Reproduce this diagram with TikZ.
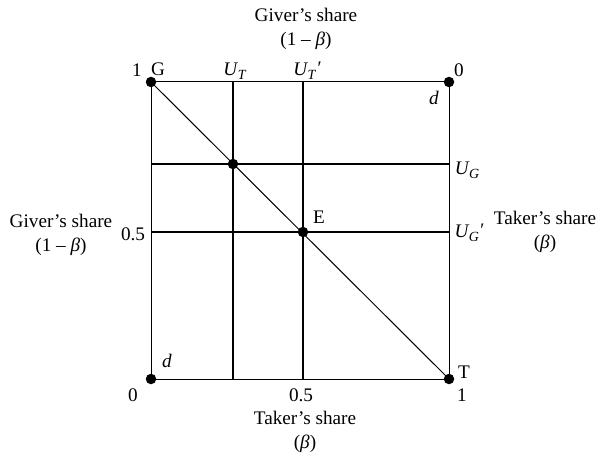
\documentclass[tikz,border=0pt]{standalone}
\usepackage{fontspec}
\setmainfont{Liberation Serif}
\newcommand{\Usb}[1]{\textit{U}\kern-0.5pt\raisebox{-0.22em}{\fontsize{14}{14}\selectfont\textit{#1}}}
\newcommand{\prm}{\raisebox{0.05em}{\textit{′}}}
\begin{document}
\begin{tikzpicture}[x=1pt,y=-1pt,
  thinln/.style={line width=1.0pt},
  thickln/.style={line width=2.5pt},
  dotpt/.style={circle,fill=black,inner sep=0pt,minimum size=10.5pt},
  lbl/.style={inner sep=0pt,font=\fontsize{19.2}{23}\selectfont},
  twol/.style={lbl,align=center}]
\useasboundingbox (0,0) rectangle (604,454);
\coordinate (G) at (151,82);
\coordinate (TR) at (449,82);
\coordinate (BL) at (151,379);
\coordinate (T) at (449,379);
\coordinate (ut1) at (233,82);
\coordinate (ut2) at (233,379);
\coordinate (up1) at (303,82);
\coordinate (up2) at (303,379);
\coordinate (ug1) at (151,164);
\coordinate (ug2) at (449,164);
\coordinate (uq1) at (151,232);
\coordinate (uq2) at (449,232);
\draw[thinln] (G) -- (TR) -- (T) -- (BL) -- cycle;
\draw[thinln] (G) -- (T);
\draw[thickln] (ut1) -- (ut2);
\draw[thickln] (up1) -- (up2);
\draw[thickln] (ug1) -- (ug2);
\draw[thickln] (uq1) -- (uq2);
\node[dotpt] (dG) at (G) {};
\node[dotpt] (dTR) at (TR) {};
\node[dotpt] (dBL) at (BL) {};
\node[dotpt] (dT) at (T) {};
\node[dotpt] (dI) at (233,164) {};
\node[dotpt] (dE) at (303,232) {};
% labels
\node[twol] (topt) at (306,29) {Giver’s share\\[1pt](1 – \textit{β})};
\node[twol] (leftt) at (61,235) {Giver’s share\\[1pt](1 – \textit{β})};
\node[twol] (rightt) at (545,232) {Taker’s share\\[1pt](\textit{β})};
\node[twol] (bott) at (305,432) {Taker’s share\\[1pt](\textit{β})};
\node[lbl] (one1) at (137,70) {1};
\node[lbl] (lG) at (158,69) {G};
\node[lbl] (lUT) at (235,71) {\Usb{T}};
\node[lbl] (lUTp) at (307,71) {\Usb{T}\prm};
\node[lbl] (zero1) at (459,70) {0};
\node[lbl] (d1) at (434,98) {\textit{d}};
\node[lbl] (h1) at (133,234) {0.5};
\node[lbl] (lUG) at (467,170) {\Usb{G}};
\node[lbl] (lUGp) at (469,233) {\Usb{G}\prm};
\node[lbl] (lE) at (319,217) {E};
\node[lbl] (d2) at (167,361) {\textit{d}};
\node[lbl] (zero2) at (133,395) {0};
\node[lbl] (h2) at (301,395) {0.5};
\node[lbl] (one2) at (462,395) {1};
\node[lbl] (lT) at (464,372) {T};
\end{tikzpicture}
\end{document}
